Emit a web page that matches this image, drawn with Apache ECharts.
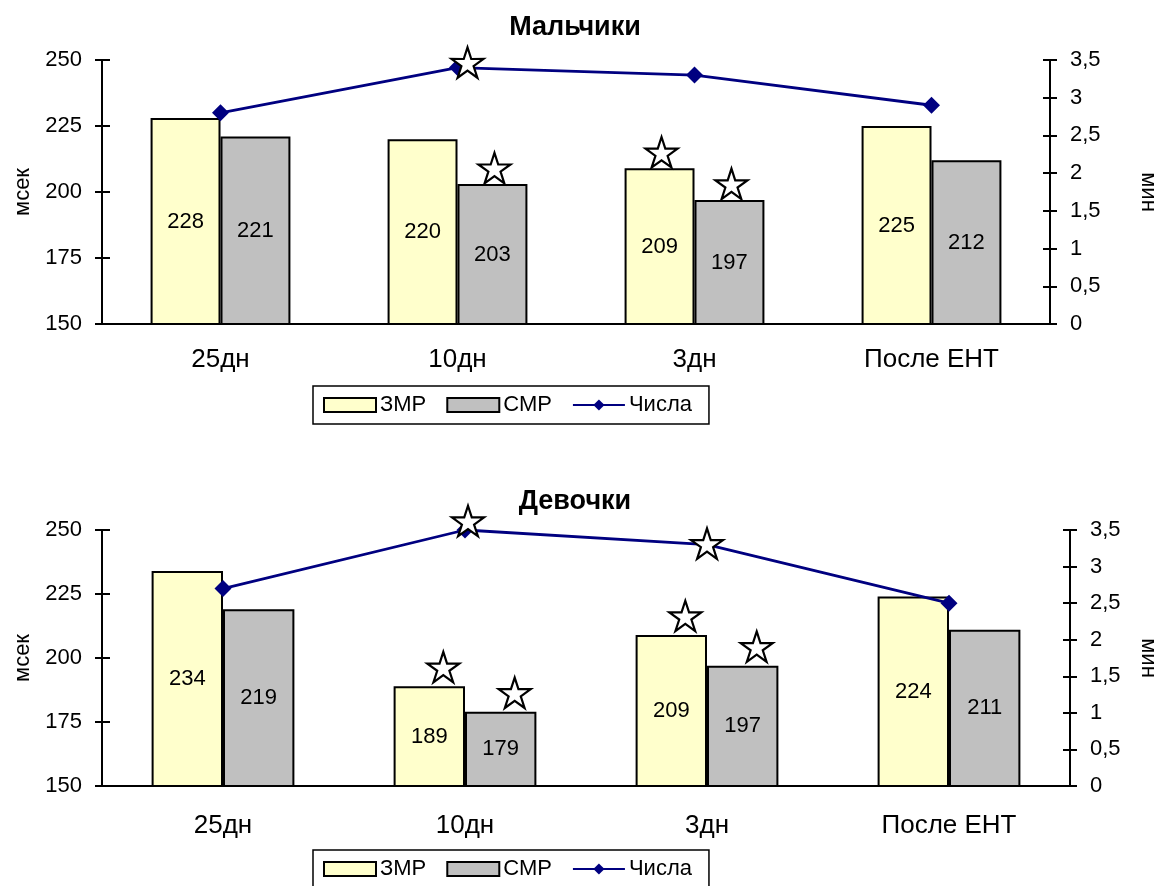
<!DOCTYPE html>
<html>
<head>
<meta charset="utf-8">
<script src="https://cdn.jsdelivr.net/npm/echarts@6/dist/echarts.min.js"></script>
<style>
  html, body { margin: 0; padding: 0; background: #fff; }
  #chart { width: 1156px; height: 886px; }
</style>
</head>
<body>
<div id="chart"></div>
<script>
// Categories (time points) and series names
const categories = ['25дн', '10дн', '3дн', 'После ЕНТ'];
const seriesNames = ['ЗМР', 'СМР', 'Числа'];

// Boys: reaction times (ms) and count test (min)
const boysZMR = [228, 220, 209, 225];
const boysSMR = [221, 203, 197, 212];
const boysNumbers = [2.8, 3.4, 3.3, 2.9];

// Girls: reaction times (ms) and count test (min)
const girlsZMR = [234, 189, 209, 224];
const girlsSMR = [219, 179, 197, 211];
const girlsNumbers = [2.7, 3.5, 3.3, 2.5];

// Significance marks (stars) per series
const boysStars = { 'ЗМР': ['3дн'], 'СМР': ['10дн', '3дн'], 'Числа': ['10дн'] };
const girlsStars = { 'ЗМР': ['10дн', '3дн'], 'СМР': ['10дн', '3дн'], 'Числа': ['10дн', '3дн'] };

// Axis ticks
const leftTicks = { min: 150, max: 250, interval: 25 };
const rightTicks = { min: 0, max: 3.5, interval: 0.5 };

const FONT = '"Liberation Sans", Arial, sans-serif';
const FS = 22;      // tick labels, bar labels, legend
const CAT_FS = 26;  // category labels
const STAR = 'path://M50 0 L61.17 34.63 L97.55 34.55 L68.07 55.87 L79.39 90.45 L50 69 L20.61 90.45 L31.93 55.87 L2.45 34.55 L38.83 34.63 Z';

const panels = [
  { title: 'Мальчики', zmr: boysZMR, smr: boysSMR, num: boysNumbers, stars: boysStars,
    grid: { left: 102, right: 106, top: 60, height: 264 }, titleTop: 9, legendTop: 386,
    xMargin: 23, rightNameGap: 87, barStar: [2, -16], lineStar: [[10, -5]] },
  { title: 'Девочки', zmr: girlsZMR, smr: girlsSMR, num: girlsNumbers, stars: girlsStars,
    grid: { left: 102, right: 86, top: 530, height: 256 }, titleTop: 483, legendTop: 850,
    xMargin: 27, rightNameGap: 67, barStar: [14, -19], lineStar: [[3, -9], [0, -1]] }
];

const option = {
  animation: false,
  backgroundColor: '#fff',
  textStyle: { fontFamily: FONT, color: '#000' },
  title: [], legend: [], grid: [], xAxis: [], yAxis: [], series: []
};

const black = '#000';

panels.forEach((p, g) => {
  option.title.push({
    text: p.title, left: 570, textAlign: 'center', top: p.titleTop,
    textStyle: { fontFamily: FONT, fontSize: 27, fontWeight: 'bold', color: black }
  });
  option.legend.push({
    data: [{ name: 'ЗМР', icon: 'rect' }, { name: 'СМР', icon: 'rect' }, { name: 'Числа' }],
    left: 313, top: p.legendTop,
    orient: 'horizontal', itemWidth: 52, itemHeight: 14, itemGap: 20,
    padding: [8, 17, 8, 10], borderColor: black, borderWidth: 1.5,
    textStyle: { fontFamily: FONT, fontSize: FS, color: black, padding: [0, 0, 0, -1] }
  });
  option.grid.push(Object.assign({ outerBoundsMode: 'none', containLabel: false }, p.grid));

  // category axis: outward ticks + labels, and a twin with inward ticks (crossing ticks)
  option.xAxis.push({
    type: 'category', gridIndex: g, data: categories, boundaryGap: true,
    axisLine: { onZero: false, lineStyle: { color: black, width: 2 } },
    axisTick: { length: 9, lineStyle: { color: black, width: 2 } },
    axisLabel: { margin: p.xMargin, fontSize: CAT_FS, color: black, fontFamily: FONT },
    splitLine: { show: false }
  }, {
    type: 'category', gridIndex: g, data: categories, boundaryGap: true,
    axisLine: { show: false, onZero: false },
    axisTick: { inside: true, length: 9, lineStyle: { color: black, width: 2 } },
    axisLabel: { show: false }, splitLine: { show: false }
  });

  const valueAxis = (ticks, pos, extra) => Object.assign({
    type: 'value', gridIndex: g, position: pos,
    min: ticks.min, max: ticks.max, interval: ticks.interval,
    splitLine: { show: false }
  }, extra);

  option.yAxis.push(
    valueAxis(leftTicks, 'left', {
      name: 'мсек', nameLocation: 'middle', nameGap: 68, nameRotate: 90,
      nameTextStyle: { fontSize: FS, color: black, fontFamily: FONT },
      axisLine: { show: true, lineStyle: { color: black, width: 2 } },
      axisTick: { show: true, length: 7, lineStyle: { color: black, width: 2 } },
      axisLabel: { margin: 20, fontSize: FS, color: black, fontFamily: FONT }
    }),
    valueAxis(leftTicks, 'left', {
      axisLine: { show: false },
      axisTick: { show: true, inside: true, length: 8, lineStyle: { color: black, width: 2 } },
      axisLabel: { show: false }
    }),
    valueAxis(rightTicks, 'right', {
      name: 'мин', nameLocation: 'middle', nameGap: p.rightNameGap, nameRotate: -90,
      nameTextStyle: { fontSize: FS, color: black, fontFamily: FONT },
      axisLine: { show: true, lineStyle: { color: black, width: 2 } },
      axisTick: { show: true, length: 7, lineStyle: { color: black, width: 2 } },
      axisLabel: { margin: 20, fontSize: FS, color: black, fontFamily: FONT,
        formatter: v => String(v).replace('.', ',') }
    }),
    valueAxis(rightTicks, 'right', {
      axisLine: { show: false },
      axisTick: { show: true, inside: true, length: 7, lineStyle: { color: black, width: 2 } },
      axisLabel: { show: false }
    })
  );

  const starStyle = { color: '#fff', borderColor: black, borderWidth: 2.2 };
  const starMark = (cats, values, offsetOf) => ({
    symbol: STAR, symbolSize: 32, symbolKeepAspect: true,
    itemStyle: starStyle, label: { show: false },
    data: cats.map((c, i) => ({
      coord: [c, values[categories.indexOf(c)]],
      symbolOffset: offsetOf(i)
    }))
  });

  const bar = (name, values, color) => ({
    type: 'bar', name, xAxisIndex: 2 * g, yAxisIndex: 4 * g,
    data: values, barGap: '0%', barCategoryGap: '41%',
    itemStyle: { color, borderColor: black, borderWidth: 2 },
    label: { show: true, position: 'inside', fontSize: FS, color: black, fontFamily: FONT },
    markPoint: starMark(p.stars[name], values, () => p.barStar)
  });

  option.series.push(
    bar('ЗМР', p.zmr, '#FFFFCC'),
    bar('СМР', p.smr, '#C0C0C0'),
    {
      type: 'line', name: 'Числа', xAxisIndex: 2 * g, yAxisIndex: 4 * g + 2,
      data: p.num, symbol: 'diamond', symbolSize: 17,
      lineStyle: { color: '#000080', width: 2.8 },
      itemStyle: { color: '#000080' },
      z: 3,
      markPoint: starMark(p.stars['Числа'], p.num, i => p.lineStar[i])
    }
  );
});

const chart = echarts.init(document.getElementById('chart'), null, { renderer: 'canvas' });
chart.setOption(option);
</script>
</body>
</html>
